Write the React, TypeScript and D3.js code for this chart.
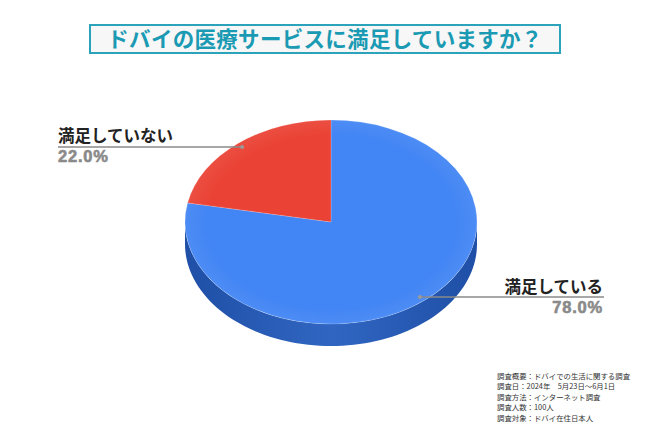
import React from "react";
import * as d3 from "d3";

const categories = ["満足している", "満足していない"];
const values = [78.0, 22.0];
const valueLabels = ["78.0%", "22.0%"];
const titleText = "ドバイの医療サービスに満足していますか？";
const notes = [
  "調査概要：ドバイでの生活に関する調査",
  "調査日：2024年　5月23日～6月1日",
  "調査方法：インターネット調査",
  "調査人数：100人",
  "調査対象：ドバイ在住日本人",
];

const W = 650;
const H = 434;
const cx = 331;
const cy = 222;
const rx = 146;
const ry = 102;
const depth = 22;
const topColors = ["#4285f4", "#ea4335"];
const sideColors = ["#2f62bd", "#b02a20"];
const JP = "'Noto Sans CJK JP', 'Noto Sans', sans-serif";
const NUM = "Arial, 'Liberation Sans', sans-serif";

const pt = (a: number, dy = 0): [number, number] => [cx + rx * Math.sin(a), cy - ry * Math.cos(a) + dy];

export default function App() {
  const pie = d3.pie<number>().sort(null).value((d) => d);
  const arcs = pie(values);
  const arcGen = d3.arc<d3.PieArcDatum<number>>().innerRadius(0).outerRadius(rx);
  const line = d3.line<[number, number]>();

  const sides = arcs.map((a, i) => {
    const s = Math.max(a.startAngle, Math.PI / 2);
    const e = Math.min(a.endAngle, (3 * Math.PI) / 2);
    if (e <= s) return null;
    const n = 80;
    const angs = d3.range(n + 1).map((k) => s + ((e - s) * k) / n);
    const topPts = angs.map((t) => pt(t));
    const botPts = angs.slice().reverse().map((t) => pt(t, depth));
    return { d: line([...topPts, ...botPts])! + "Z", i };
  });

  const anchorFor = (a: d3.PieArcDatum<number>) => {
    const mid = (a.startAngle + a.endAngle) / 2;
    return [cx + rx * 0.955 * Math.sin(mid), cy - ry * 0.955 * Math.cos(mid)];
  };
  const blueAnchor = anchorFor(arcs[0]);
  const redAnchor = anchorFor(arcs[1]);

  return (
    <svg width={W} height={H} viewBox={`0 0 ${W} ${H}`} style={{ display: "block", position: "absolute", left: 0, top: 0, background: "#fff" }}>
      <defs>
        <linearGradient id="sideGrad" x1="0" y1="0" x2="1" y2="0">
          <stop offset="0" stopColor="#1f4fa6" />
          <stop offset="0.5" stopColor="#3066c2" />
          <stop offset="1" stopColor="#1f4fa6" />
        </linearGradient>
        <radialGradient id="shade" cx="0.5" cy="0.5" r="0.5">
          <stop offset="0.85" stopColor="#fff" stopOpacity="0" />
          <stop offset="1" stopColor="#fff" stopOpacity="0.06" />
        </radialGradient>
      </defs>
      <rect x={90} y={25} width={470} height={28} fill="#f7f7f7" stroke="#2aa3bb" strokeWidth={2} />
      <text x={325} y={47} textAnchor="middle" fontFamily={JP} fontWeight={700} fontSize={21.5} fill="#1a9ab3" letterSpacing={0.3}>
        {titleText}
      </text>

      {sides.map((s) =>
        s ? <path key={s.i} d={s.d} fill={s.i === 0 ? "url(#sideGrad)" : sideColors[s.i]} /> : null
      )}
      <g transform={`translate(${cx},${cy}) scale(1,${ry / rx})`}>
        {arcs.map((a, i) => (
          <path key={i} d={arcGen(a)!} fill={topColors[i]} stroke="#ffffff" strokeOpacity={0.35} strokeWidth={0.6} />
        ))}
        <circle r={rx} fill="url(#shade)" />
      </g>

      <line x1={58} y1={redAnchor[1]} x2={redAnchor[0]} y2={redAnchor[1]} stroke="#8a8a8a" strokeWidth={1.5} />
      <circle cx={redAnchor[0]} cy={redAnchor[1]} r={2} fill="#9a9a9a" />
      <text x={58} y={142} fontFamily={JP} fontWeight={700} fontSize={16.5} fill="#222">{categories[1]}</text>
      <text x={58} y={162} fontFamily={NUM} fontWeight="bold" fontSize={16.5} fill="#8a8a8a" stroke="#8a8a8a" strokeWidth={0.6} letterSpacing={0.8}>{valueLabels[1]}</text>

      <line x1={blueAnchor[0]} y1={blueAnchor[1]} x2={604} y2={blueAnchor[1]} stroke="#8a8a8a" strokeWidth={1.5} />
      <circle cx={blueAnchor[0]} cy={blueAnchor[1]} r={2} fill="#9a9a9a" />
      <text x={603} y={293} textAnchor="end" fontFamily={JP} fontWeight={700} fontSize={16.5} fill="#222">{categories[0]}</text>
      <text x={603} y={313} textAnchor="end" fontFamily={NUM} fontWeight="bold" fontSize={16.5} fill="#8a8a8a" stroke="#8a8a8a" strokeWidth={0.6} letterSpacing={0.8}>{valueLabels[0]}</text>

      {notes.map((n, i) => (
        <text key={i} x={497} y={379 + i * 10.4} fontFamily={JP} fontSize={7.4} fill="#333">{n}</text>
      ))}
    </svg>
  );
}
